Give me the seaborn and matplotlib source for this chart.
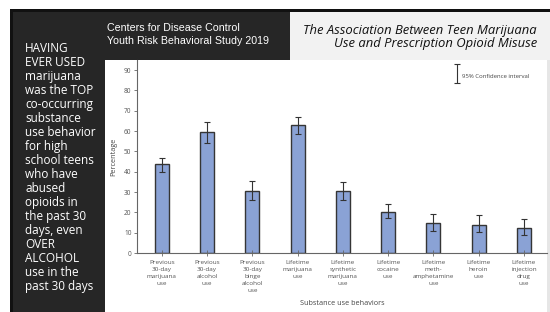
import matplotlib
matplotlib.use("Agg")
import matplotlib.pyplot as plt
import seaborn as sns
import numpy as np
from matplotlib.patches import Rectangle
from matplotlib.legend_handler import HandlerErrorbar

behaviors = [
    "Previous\n30-day\nmarijuana\nuse",
    "Previous\n30-day\nalcohol\nuse",
    "Previous\n30-day\nbinge\nalcohol\nuse",
    "Lifetime\nmarijuana\nuse",
    "Lifetime\nsynthetic\nmarijuana\nuse",
    "Lifetime\ncocaine\nuse",
    "Lifetime\nmeth-\namphetamine\nuse",
    "Lifetime\nheroin\nuse",
    "Lifetime\ninjection\ndrug\nuse",
]
percent = [43.6, 59.5, 30.3, 63.0, 30.3, 20.4, 14.9, 14.0, 12.3]
ci_low = [40.1, 54.0, 26.0, 58.5, 26.2, 17.1, 10.8, 10.2, 8.7]
ci_high = [47.0, 64.7, 35.3, 67.0, 34.8, 24.0, 19.4, 18.7, 16.6]

side_note = ("HAVING\nEVER USED\nmarijuana\nwas the TOP\nco-occurring\nsubstance\n"
             "use behavior\nfor high\nschool teens\nwho have\nabused\nopioids in\n"
             "the past 30\ndays, even\nOVER\nALCOHOL\nuse in the\npast 30 days")

W, H = 550, 312
fig = plt.figure(figsize=(W / 100, H / 100), dpi=100)
fig.patch.set_facecolor("white")


def box(x0, y0, x1, y1, color):
    # pixel box, measured from the top-left corner
    fig.patches.append(Rectangle((x0 / W, 1 - y1 / H), (x1 - x0) / W, (y1 - y0) / H,
                                 transform=fig.transFigure, facecolor=color,
                                 edgecolor="none", zorder=-5))


box(10, 9, 550, 312, "#111111")
box(13, 12, 550, 312, "#262626")
box(290, 12, 550, 60, "#f2f2f2")
box(105, 60, 547, 312, "white")
box(547, 60, 550, 312, "#e6e6e6")

fig.text(107 / W, 1 - 23 / H, "Centers for Disease Control\nYouth Risk Behavioral Study 2019",
         color="white", fontsize=7.7, family="Liberation Sans", va="top", ha="left",
         linespacing=1.38)
fig.text(537 / W, 1 - 24 / H, "The Association Between Teen Marijuana\nUse and Prescription Opioid Misuse",
         color="#111111", fontsize=9.4, family="Open Sans", style="italic", va="top",
         ha="right", linespacing=0.95)
fig.text(25 / W, 1 - 42 / H, side_note, color="white", fontsize=8.5, family="Open Sans",
         va="top", ha="left", linespacing=1.1)

ax = fig.add_axes([137 / W, (H - 253) / H, (547 - 137) / W, (253 - 60) / H])
ax.set_facecolor("white")

sns.barplot(x=behaviors, y=percent, ax=ax, width=0.31, color="#8aa2d5",
            edgecolor="#353535", linewidth=1.0, saturation=1)
xs = np.arange(len(percent))
vals = np.array(percent)
err = [vals - np.array(ci_low), np.array(ci_high) - vals]
eb = ax.errorbar(xs, vals, yerr=err, fmt="none", ecolor="#333333", elinewidth=0.8,
                 capsize=2.5, capthick=0.8, label="95% Confidence interval")

ax.set_xlim(-0.55, 8.51)
ax.set_ylim(0, 95)
ax.set_yticks(range(0, 91, 10))
for s in ["top", "right"]:
    ax.spines[s].set_visible(False)
for s in ["left", "bottom"]:
    ax.spines[s].set_color("#666666")
    ax.spines[s].set_linewidth(0.8)
ax.tick_params(axis="both", colors="#666666", labelcolor="#555555", labelsize=4.7,
               length=2.5, width=0.6, pad=1.5)
ax.tick_params(axis="x", direction="inout", length=4, pad=3, labelsize=4.6)
for lab in ax.get_xticklabels():
    lab.set_linespacing(1.5)
    lab.set_family("Open Sans")
for lab in ax.get_yticklabels():
    lab.set_family("Open Sans")
ax.set_xlabel("Substance use behaviors", fontsize=5.2, color="#444444", family="Open Sans",
              labelpad=5)
ax.set_ylabel("Percentage", fontsize=5.2, color="#444444", family="Open Sans", labelpad=5)

leg = ax.legend(handles=[eb], loc="center left",
                bbox_to_anchor=((455 - 137) / 410, (253 - 76) / 193),
                frameon=False, fontsize=4.3, handlelength=0.8, handleheight=3,
                handletextpad=0.4, borderpad=0, borderaxespad=0,
                handler_map={type(eb): HandlerErrorbar(yerr_size=1.6)})
for t in leg.get_texts():
    t.set_color("#444444")
    t.set_family("Open Sans")

fig.savefig("out.png", dpi=100)
